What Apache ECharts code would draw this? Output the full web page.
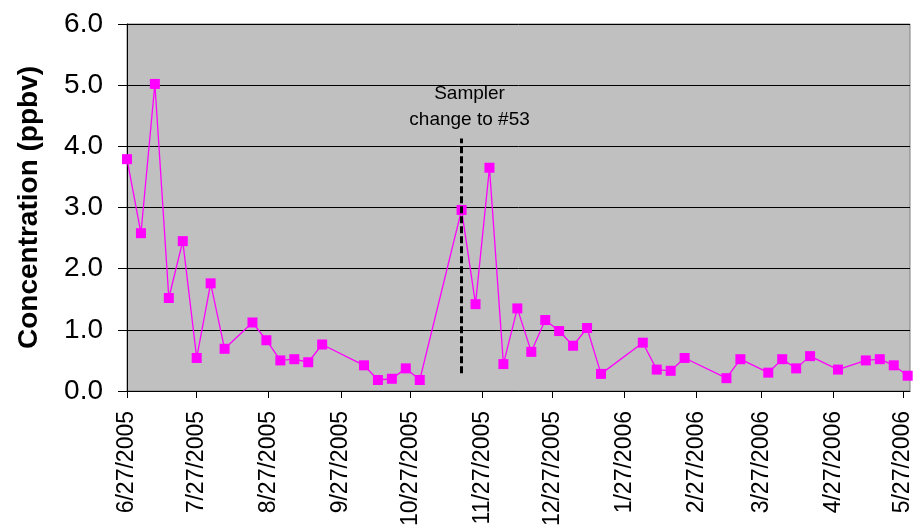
<!DOCTYPE html>
<html>
<head>
<meta charset="utf-8">
<title>Concentration (ppbv)</title>
<script src="https://cdn.jsdelivr.net/npm/echarts@6/dist/echarts.min.js"></script>
<style>
  html, body { margin: 0; padding: 0; background: #ffffff; }
  #chart { width: 916px; height: 530px; }
</style>
</head>
<body>
<div id="chart"></div>
<script>
// Monthly tick labels along the date axis
const tickLabels = [
  '6/27/2005', '7/27/2005', '8/27/2005', '9/27/2005', '10/27/2005', '11/27/2005',
  '12/27/2005', '1/27/2006', '2/27/2006', '3/27/2006', '4/27/2006', '5/27/2006'
];
const axisRange = ['6/27/2005', '5/30/2006'];

// Sampling dates (every sixth day, with gaps) and measured concentrations
const sampleDates = [
  '6/27/2005', '7/3/2005', '7/9/2005', '7/15/2005', '7/21/2005', '7/27/2005',
  '8/2/2005', '8/8/2005', '8/20/2005', '8/26/2005', '9/1/2005', '9/7/2005',
  '9/13/2005', '9/19/2005', '10/7/2005', '10/13/2005', '10/19/2005', '10/25/2005',
  '10/31/2005', '11/18/2005', '11/24/2005', '11/30/2005', '12/6/2005', '12/12/2005',
  '12/18/2005', '12/24/2005', '12/30/2005', '1/5/2006', '1/11/2006', '1/17/2006',
  '2/4/2006', '2/10/2006', '2/16/2006', '2/22/2006', '3/12/2006', '3/18/2006',
  '3/30/2006', '4/5/2006', '4/11/2006', '4/17/2006', '4/29/2006', '5/11/2006',
  '5/17/2006', '5/23/2006', '5/29/2006'
];
const concentration = [
  3.79, 2.58, 5.02, 1.52, 2.45, 0.54,
  1.76, 0.69, 1.12, 0.83, 0.50, 0.52,
  0.47, 0.76, 0.42, 0.18, 0.20, 0.37,
  0.18, 2.96, 1.42, 3.65, 0.44, 1.35,
  0.64, 1.16, 0.98, 0.74, 1.03, 0.28,
  0.79, 0.35, 0.33, 0.54, 0.21, 0.52,
  0.30, 0.52, 0.37, 0.57, 0.35, 0.50,
  0.52, 0.42, 0.25
];

// Sampler change marker
const samplerChangeDate = '11/18/2005';
const samplerChangeSpan = [0.29, 4.13];
const samplerChangeText = 'Sampler\nchange to #53';

// Dates are kept as day numbers on a plain value axis
const DAY = 86400000;
function parseDate(s) {
  const [m, d, y] = s.split('/').map(Number);
  return Math.round(Date.UTC(y, m - 1, d) / DAY);
}
function formatDate(n) {
  const dt = new Date(n * DAY);
  return (dt.getUTCMonth() + 1) + '/' + dt.getUTCDate() + '/' + dt.getUTCFullYear();
}

const FONT = '"Liberation Sans", Arial, sans-serif';
const tickValues = tickLabels.map(parseDate);
const changeT = parseDate(samplerChangeDate);

const chart = echarts.init(document.getElementById('chart'), null, { renderer: 'canvas' });
chart.setOption({
  animation: false,
  backgroundColor: '#ffffff',
  grid: {
    left: 127, right: 6, top: 24, bottom: 139,
    show: true,
    backgroundColor: '#c0c0c0',
    borderColor: '#808080',
    borderWidth: 1
  },
  xAxis: {
    type: 'value',
    min: parseDate(axisRange[0]),
    max: parseDate(axisRange[1]),
    axisLine: { show: true, onZero: false, lineStyle: { color: '#000000', width: 1 } },
    axisTick: { show: true, inside: false, length: 7, customValues: tickValues, lineStyle: { color: '#000000' } },
    axisLabel: {
      customValues: tickValues,
      rotate: 90,
      margin: 20,
      fontFamily: FONT,
      fontSize: 23,
      color: '#000000',
      formatter: function (v) { return formatDate(v); }
    },
    splitLine: { show: false }
  },
  yAxis: {
    type: 'value',
    min: 0, max: 6, interval: 1,
    name: 'Concentration (ppbv)',
    nameLocation: 'middle',
    nameRotate: 90,
    nameGap: 84,
    nameTextStyle: { fontFamily: FONT, fontSize: 28, fontWeight: 'bold', color: '#000000' },
    axisLine: { show: true, lineStyle: { color: '#000000', width: 1 } },
    axisTick: { show: true, inside: false, length: 9, lineStyle: { color: '#000000' } },
    axisLabel: {
      margin: 24,
      fontFamily: FONT,
      fontSize: 28,
      color: '#000000',
      formatter: function (v) { return v.toFixed(1); }
    },
    splitLine: { show: true, lineStyle: { color: '#000000', width: 1 } }
  },
  series: [
    {
      name: 'Concentration',
      type: 'line',
      data: sampleDates.map((d, i) => [parseDate(d), concentration[i]]),
      symbol: 'rect',
      symbolSize: 10,
      showAllSymbol: true,
      itemStyle: { color: '#ff00ff' },
      lineStyle: { color: '#ff00ff', width: 1.3 },
      z: 3
    },
    {
      name: 'Sampler change',
      type: 'line',
      data: [],
      z: 5,
      markLine: {
        silent: true,
        symbol: ['none', 'none'],
        animation: false,
        lineStyle: { color: '#000000', width: 3, type: [7, 3] },
        label: {
          show: true,
          position: 'end',
          distance: 6,
          formatter: samplerChangeText,
          fontFamily: FONT,
          fontSize: 19,
          lineHeight: 26,
          color: '#000000',
          padding: [0, 0, 0, 16]
        },
        emphasis: { disabled: true },
        data: [[
          { coord: [changeT, samplerChangeSpan[0]] },
          { coord: [changeT, samplerChangeSpan[1]] }
        ]]
      }
    }
  ]
});
</script>
</body>
</html>
